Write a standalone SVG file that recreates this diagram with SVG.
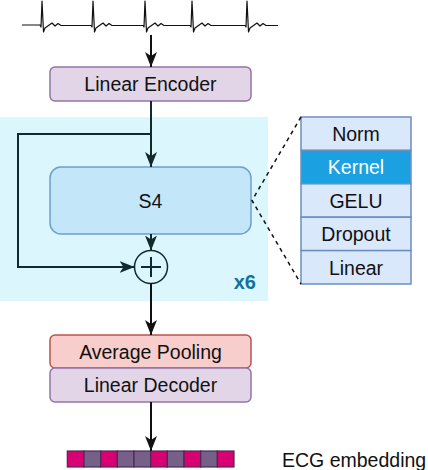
<svg xmlns="http://www.w3.org/2000/svg" width="428" height="470" viewBox="0 0 428 470">
<defs>
<marker id="arr" markerUnits="userSpaceOnUse" viewBox="0 0 15 12" markerWidth="15" markerHeight="12" refX="15" refY="6" orient="auto">
<path d="M0,0 L15,6 L0,12 L4,6 z" fill="#111"/>
</marker>
<marker id="arr2" markerUnits="userSpaceOnUse" viewBox="0 0 15 12" markerWidth="15" markerHeight="12" refX="15" refY="6" orient="auto">
<path d="M0,0 L15,6 L0,12 L4,6 z" fill="#12292d"/>
</marker>
<style>
text{font-family:"Liberation Sans",Arial,sans-serif;font-size:19.5px;text-anchor:middle;fill:#111}
.purple{fill:#e1d5e7;stroke:#9673a6;stroke-width:1.5}
.red{fill:#f8cecc;stroke:#b85450;stroke-width:1.5}
.s4{fill:#c4e6f9;stroke:#6f9fcc;stroke-width:1.5}
.cell{fill:#dae8fc;stroke:#6c8ebf;stroke-width:1.5}
.kern{fill:#1ba1e2;stroke:#6c8ebf;stroke-width:1.5}
.pk{fill:#d80073;stroke:#4a2a55;stroke-width:1.2}
.pu{fill:#76608a;stroke:#4a2a55;stroke-width:1.2}
.ln{fill:none;stroke:#111;stroke-width:2}
.ln2{fill:none;stroke:#12292d;stroke-width:2}
.dash{fill:none;stroke:#111;stroke-width:1.5;stroke-dasharray:4 4}
</style>
</defs>

<g id="ecg-signal">
<path fill="none" stroke="#111" stroke-width="1.2" stroke-linejoin="round" d="M22,25 L40,25 L41,27 L42,1 L43.5,32 L45,28 L52,23 L55,26 L58,23.5 L61,25.5 L91,25.5 L92,27 L93,1 L94.5,32 L96,28 L103,23 L106,26 L109,23.5 L112,25.5 L143,25.5 L144,27 L145,1 L146.5,32 L148,28 L155,23 L158,26 L161,23.5 L164,25.5 L190,25.5 L191,27 L192,1 L193.5,32 L195,28 L202,23 L205,26 L208,23.5 L211,25.5 L245,25.5 L246,27 L247,1 L248.5,32 L250,28 L257,23 L260,26 L263,23.5 L266,25.5 L278,25.5"/>
</g>

<g id="s4-container">
<rect x="0" y="117" width="268" height="184" fill="#dcf6fd"/>
<text x="256" y="288.5" style="font-weight:bold;font-size:20px;fill:#10739e;text-anchor:end">x6</text>
</g>

<g id="linear-encoder">
<rect class="purple" x="50" y="67" width="201" height="34" rx="5"/>
<text x="150.5" y="91">Linear Encoder</text>
</g>

<g id="s4">
<rect class="s4" x="50" y="167" width="201" height="67" rx="11"/>
<text x="150.5" y="208">S4</text>
</g>

<g id="add">
<circle cx="151" cy="267" r="16.5" fill="none" stroke="#12292d" stroke-width="1.5"/>
<path d="M141,267 H161 M151,257 V277" stroke="#12292d" stroke-width="2" fill="none"/>
</g>

<g id="s4-layers">
<rect class="cell" x="301" y="117" width="110" height="33.4"/>
<text x="356" y="141">Norm</text>
<rect class="kern" x="301" y="150.4" width="110" height="33.4"/>
<text x="356" y="174.4" style="fill:#fff">Kernel</text>
<rect class="cell" x="301" y="183.8" width="110" height="33.4"/>
<text x="356" y="207.8">GELU</text>
<rect class="cell" x="301" y="217.2" width="110" height="33.4"/>
<text x="356" y="241.2">Dropout</text>
<rect class="cell" x="301" y="250.6" width="110" height="33.4"/>
<text x="356" y="274.6">Linear</text>
</g>

<g id="average-pooling">
<rect class="red" x="50" y="335" width="201" height="33" rx="5"/>
<text x="150.5" y="358.5">Average Pooling</text>
</g>

<g id="linear-decoder">
<rect class="purple" x="50" y="368" width="201" height="34" rx="5"/>
<text x="150.5" y="392">Linear Decoder</text>
</g>

<g id="embedding">
<rect class="pk" x="67.3" y="451" width="16.7" height="16"/>
<rect class="pu" x="84" y="451" width="16.7" height="16"/>
<rect class="pk" x="100.7" y="451" width="16.7" height="16"/>
<rect class="pu" x="117.3" y="451" width="16.7" height="16"/>
<rect class="pu" x="134" y="451" width="16.7" height="16"/>
<rect class="pk" x="150.7" y="451" width="16.7" height="16"/>
<rect class="pu" x="167.3" y="451" width="16.7" height="16"/>
<rect class="pk" x="184" y="451" width="16.7" height="16"/>
<rect class="pu" x="200.7" y="451" width="16.7" height="16"/>
<rect class="pk" x="217.3" y="451" width="16.7" height="16"/>
<text x="282" y="466.5" style="text-anchor:start">ECG embedding</text>
</g>

<g id="connectors">
<path class="ln" d="M151,35 V67" marker-end="url(#arr)"/>
<path class="ln2" d="M151,101 V167" marker-end="url(#arr2)"/>
<path class="ln2" d="M151,134 H18 V267 H134.5" marker-end="url(#arr2)"/>
<path class="ln2" d="M151,234 V250.5" marker-end="url(#arr2)"/>
<path class="ln" d="M151,283.5 V335" marker-end="url(#arr)"/>
<path class="ln" d="M151,402 V451" marker-end="url(#arr)"/>
<path class="dash" d="M301,117 L252,200.5 L301,284"/>
</g>
</svg>
